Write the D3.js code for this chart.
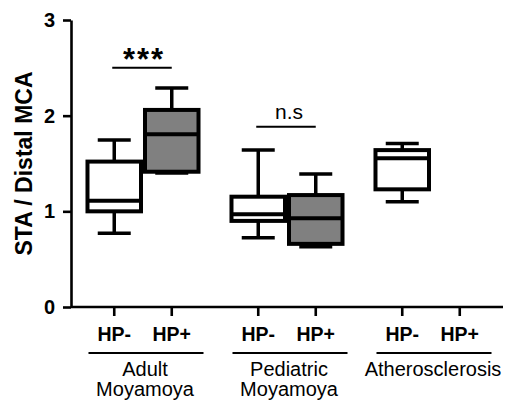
<!DOCTYPE html>
<html>
<head>
<meta charset="utf-8">
<script src="https://d3js.org/d3.v7.min.js"></script>
<style>
  body { margin: 0; background: #fff; }
  text { font-family: "Liberation Sans", Arial, sans-serif; }
</style>
</head>
<body>
<script>
// data
const groups = ["Adult Moyamoya", "Pediatric Moyamoya", "Atherosclerosis"];
const groupLabels = [["Adult", "Moyamoya"], ["Pediatric", "Moyamoya"], ["Atherosclerosis"]];
const conditions = ["HP-", "HP+"];
const yTicks = [0, 1, 2, 3];
// [group, condition, min, q1, median, q3, max]
const boxStats = [
  ["Adult Moyamoya", "HP-", 0.77, 1.00, 1.11, 1.52, 1.745],
  ["Adult Moyamoya", "HP+", 1.40, 1.414, 1.805, 2.06, 2.29],
  ["Pediatric Moyamoya", "HP-", 0.725, 0.90, 0.97, 1.153, 1.64],
  ["Pediatric Moyamoya", "HP+", 0.63, 0.66, 0.927, 1.17, 1.39],
  ["Atherosclerosis", "HP-", 1.10, 1.23, 1.555, 1.64, 1.71]
];
const sigGroups = ["Adult Moyamoya", "Pediatric Moyamoya"];
const sigLevels = [2.50, 1.885];
const sigLabels = ["***", "n.s"];

const width = 505, height = 401;
const svg = d3.select("body").append("svg")
  .attr("width", width).attr("height", height);

const x0 = d3.scaleBand().domain(groups).range([71, 503]);
const x1 = d3.scaleBand().domain(conditions).range([0, x0.bandwidth()])
  .paddingOuter(0.252);
const y = d3.scaleLinear().domain([0, 3]).range([307, 20]);
const cx = (g, c) => x0(g) + x1(c) + x1.bandwidth() / 2;

// y axis
const yAxis = svg.append("g")
  .attr("transform", "translate(71,0)")
  .call(d3.axisLeft(y).tickValues(yTicks).tickFormat(d3.format("d"))
    .tickSize(8).tickSizeOuter(0).tickPadding(8));
yAxis.select(".domain").attr("stroke", "#000").attr("stroke-width", 2.6);
yAxis.selectAll(".tick line").attr("stroke", "#000").attr("stroke-width", 2.6);
yAxis.selectAll(".tick text")
  .attr("font-family", "Liberation Sans, Arial, sans-serif")
  .attr("font-size", 20).attr("font-weight", "bold").attr("fill", "#000");

svg.append("text")
  .attr("transform", `translate(32,${(y(0) + y(3)) / 2}) rotate(-90)`)
  .attr("text-anchor", "middle")
  .attr("font-size", 23).attr("font-weight", "bold")
  .text("STA / Distal MCA");

// x axis
const xg = svg.append("g");
xg.append("line")
  .attr("x1", 71).attr("x2", 503).attr("y1", y(0)).attr("y2", y(0))
  .attr("stroke", "#000").attr("stroke-width", 2.6);
groups.forEach(g => {
  conditions.forEach(c => {
    xg.append("line")
      .attr("x1", cx(g, c)).attr("x2", cx(g, c))
      .attr("y1", y(0)).attr("y2", y(0) + 9)
      .attr("stroke", "#000").attr("stroke-width", 2.6);
    xg.append("text")
      .attr("x", cx(g, c)).attr("y", y(0) + 34)
      .attr("text-anchor", "middle")
      .attr("font-size", 19.5).attr("font-weight", "bold")
      .text(c);
  });
  const a = x0(g) + x1(conditions[0]);
  const b = x0(g) + x1(conditions[1]) + x1.bandwidth();
  xg.append("line")
    .attr("x1", a + 3).attr("x2", b + 3)
    .attr("y1", y(0) + 46).attr("y2", y(0) + 46)
    .attr("stroke", "#000").attr("stroke-width", 2);
});
groupLabels.forEach((lines, i) => {
  const t = xg.append("text")
    .attr("x", x0(groups[i]) + x0.bandwidth() / 2)
    .attr("y", y(0) + 69)
    .attr("text-anchor", "middle")
    .attr("font-size", 20);
  lines.forEach((s, k) => {
    t.append("tspan")
      .attr("x", x0(groups[i]) + x0.bandwidth() / 2 + 2)
      .attr("dy", k ? 20 : 0)
      .text(s);
  });
});

// boxes
const bw = x1.bandwidth();
const capW = 33;
const bx = svg.selectAll("g.box").data(boxStats).join("g").attr("class", "box");
bx.each(function(d) {
  const g = d3.select(this);
  const c = cx(d[0], d[1]);
  const fill = d[1] === "HP+" ? "#808080" : "#fff";
  g.append("line").attr("x1", c).attr("x2", c)
    .attr("y1", y(d[2])).attr("y2", y(d[6]))
    .attr("stroke", "#000").attr("stroke-width", 3.5);
  [d[2], d[6]].forEach(v => {
    g.append("line").attr("x1", c - capW / 2).attr("x2", c + capW / 2)
      .attr("y1", y(v)).attr("y2", y(v))
      .attr("stroke", "#000").attr("stroke-width", 3.5);
  });
  g.append("rect")
    .attr("x", c - bw / 2 + 2).attr("width", bw - 4)
    .attr("y", y(d[5])).attr("height", y(d[3]) - y(d[5]))
    .attr("fill", fill).attr("stroke", "#000").attr("stroke-width", 4);
  g.append("line").attr("x1", c - bw / 2 + 2).attr("x2", c + bw / 2 - 2)
    .attr("y1", y(d[4])).attr("y2", y(d[4]))
    .attr("stroke", "#000").attr("stroke-width", 4);
});

// significance
sigGroups.forEach((g, i) => {
  const a = cx(g, conditions[0]), b = cx(g, conditions[1]);
  const stars = sigLabels[i] === "***";
  svg.append("line")
    .attr("x1", a - 2).attr("x2", b)
    .attr("y1", y(sigLevels[i])).attr("y2", y(sigLevels[i]))
    .attr("stroke", "#000").attr("stroke-width", 2);
  svg.append("text")
    .attr("x", (a + b) / 2 + (stars ? 1 : 2))
    .attr("y", y(sigLevels[i]) + (stars ? 2 : -8))
    .attr("text-anchor", "middle")
    .attr("font-size", stars ? 31 : 21)
    .attr("font-weight", stars ? "bold" : "normal")
    .attr("letter-spacing", stars ? 2 : 0)
    .text(sigLabels[i]);
});
</script>
</body>
</html>
